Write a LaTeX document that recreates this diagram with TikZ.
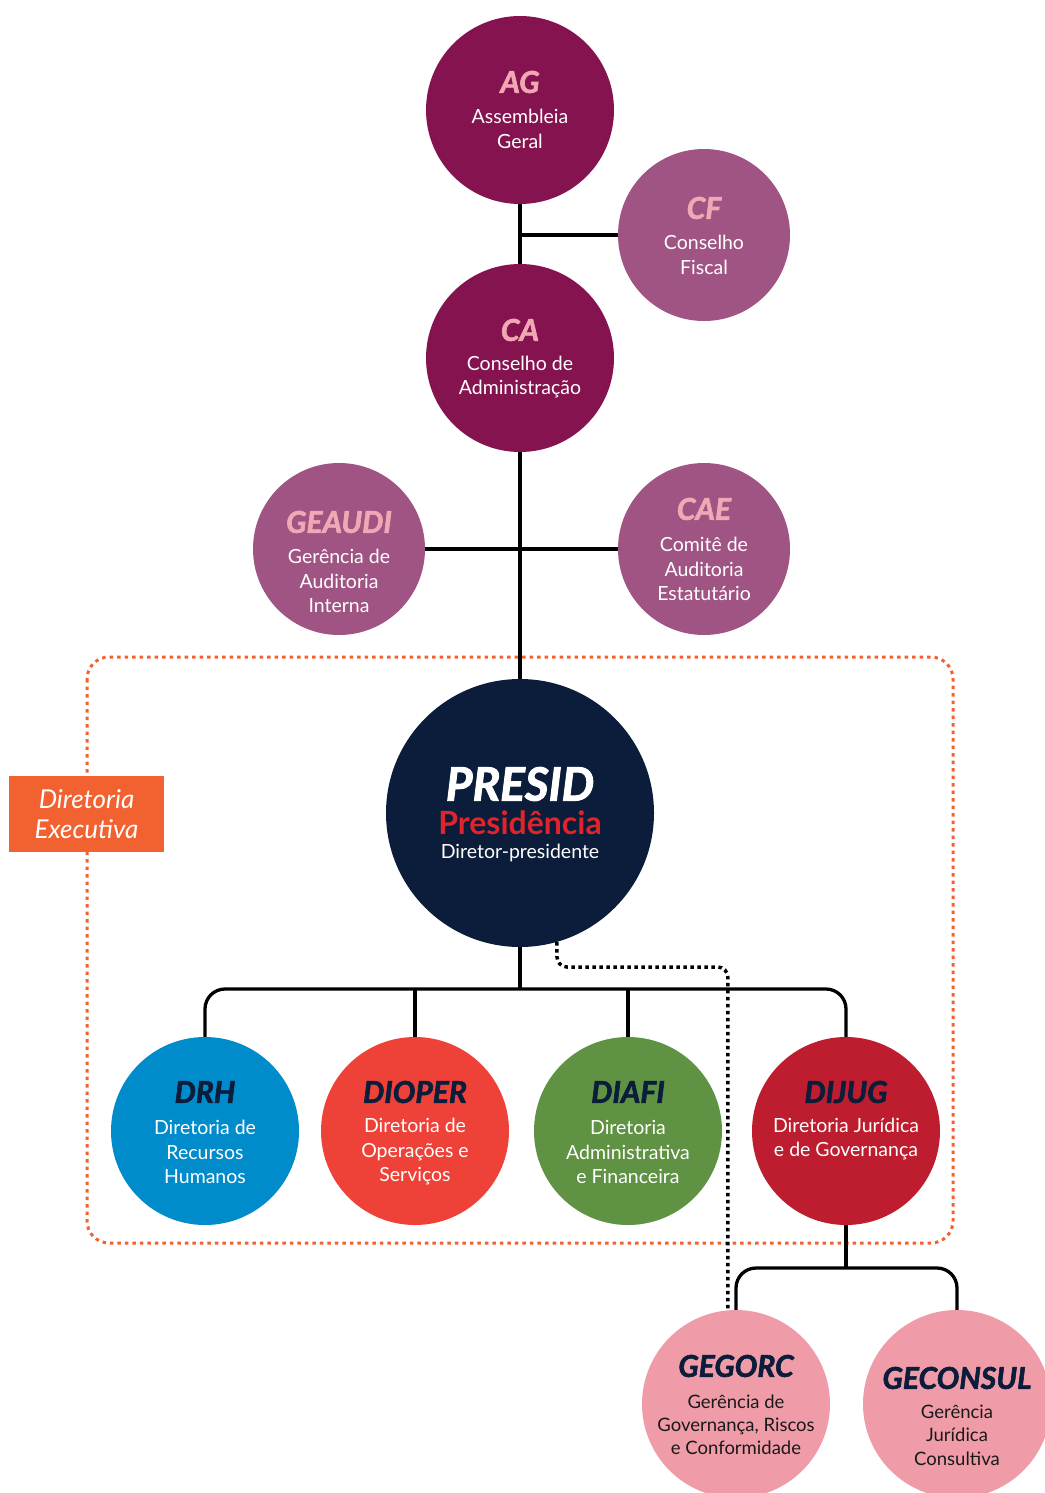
\documentclass[tikz,border=0pt]{standalone}
\usepackage{fontspec}
\setmainfont{Lato}[BoldItalicFeatures={FakeBold=2}]
\definecolor{cmag}{HTML}{85134F}
\definecolor{cmauve}{HTML}{A05484}
\definecolor{cpinkt}{HTML}{F2A7B5}
\definecolor{cnavy}{HTML}{0B1D3A}
\definecolor{cpres}{HTML}{E0242B}
\definecolor{cblue}{HTML}{008BCB}
\definecolor{corred}{HTML}{EE4137}
\definecolor{cgreen}{HTML}{5F9242}
\definecolor{ccrim}{HTML}{BD1D2F}
\definecolor{cpinkc}{HTML}{EF9CA8}
\definecolor{corange}{HTML}{F26130}
\begin{document}
\begin{tikzpicture}[x=1pt,y=-1pt,
  orgc/.style={circle, inner sep=0pt, minimum size=#1},
  ttl/.style={inner sep=0pt, font=\fontsize{30}{30}\selectfont\bfseries\itshape},
  body/.style={inner sep=0pt, align=center, text=white, font=\fontsize{19.5}{24.5}\selectfont},
  link/.style={line width=3.3pt, black},
  dotlink/.style={line width=3.5pt, black, dash pattern=on 3.5pt off 3.5pt},
  exebox/.style={draw=corange, line width=3pt, dash pattern=on 3.5pt off 4pt, rounded corners=22pt}
]
\useasboundingbox (0,0) rectangle (1044,1493);
% executive frame
\draw[exebox] (87,657) rectangle (953,1243);
\node[fill=corange, minimum width=155pt, minimum height=76pt, inner sep=0pt,
      text=white, align=center, font=\fontsize{26}{30}\selectfont\itshape] (dexe) at (86.5,814) {Diretoria\\Executiva};

% circles
\node[orgc=188, fill=cmag] (ag) at (520,110) {};
\node[orgc=172, fill=cmauve] (cf) at (704,235) {};
\node[orgc=188, fill=cmag] (ca) at (520,358) {};
\node[orgc=172, fill=cmauve] (geaudi) at (339,549) {};
\node[orgc=172, fill=cmauve] (cae) at (704,549) {};
\node[orgc=268, fill=cnavy] (presid) at (520,813) {};
\node[orgc=188, fill=cblue] (drh) at (205,1131) {};
\node[orgc=188, fill=corred] (dioper) at (415,1131) {};
\node[orgc=188, fill=cgreen] (diafi) at (628,1131) {};
\node[orgc=188, fill=ccrim] (dijug) at (846,1131) {};
\node[orgc=188, fill=cpinkc] (gegorc) at (736,1404) {};
\node[orgc=188, fill=cpinkc] (geconsul) at (957,1404) {};

% connectors
\coordinate (bus) at (520,989);
\coordinate (subbus) at (846,1268);
\coordinate (dotbus) at (640,967);
\draw[link] (ag) -- (ca);
\draw[link] (cf.west) -- (cf.west -| ag.south);
\draw[link] (ca) -- (presid);
\draw[link] (geaudi.east) -- (cae.west);
\draw[link] (presid.south) -- (bus);
\draw[link, rounded corners=20pt] (drh.north) |- (bus) -| (dijug.north);
\draw[link] (dioper.north) -- (dioper.north |- bus);
\draw[link] (diafi.north) -- (diafi.north |- bus);
\draw[link] (dijug.south) -- (subbus);
\draw[link, rounded corners=20pt] (gegorc.north) |- (subbus) -| (geconsul.north);
\draw[dotlink, rounded corners=10pt] (presid.-74) |- (dotbus) -| (gegorc.95.5);

% texts
\node[ttl, text=cpinkt] (agT) at (520,82) {AG};
\node[body] (agB) at (520,129) {Assembleia\\Geral};
\node[ttl, text=cpinkt] (cfT) at (704,208) {CF};
\node[body] (cfB) at (704,255) {Conselho\\Fiscal};
\node[ttl, text=cpinkt] (caT) at (520,330) {CA};
\node[body] (caB) at (520,377) {Conselho de\\Administração};
\node[ttl, text=cpinkt] (geaudiT) at (339,522) {GEAUDI};
\node[body] (geaudiB) at (339,581) {Gerência de\\Auditoria\\Interna};
\node[ttl, text=cpinkt] (caeT) at (704,509) {CAE};
\node[body] (caeB) at (704,569) {Comitê de\\Auditoria\\Estatutário};

\node[inner sep=0pt, text=white, font=\fontsize{46}{46}\selectfont\bfseries\itshape] (presidT) at (520,784) {PRESID};
\node[inner sep=0pt, text=cpres, font=\fontsize{32}{32}\selectfont\bfseries] (presidS) at (520,823) {Presidência};
\node[body] (presidB) at (520,853) {Diretor-presidente};

\node[ttl, text=cnavy] (drhT) at (205,1092) {DRH};
\node[body] (drhB) at (205,1152) {Diretoria de\\Recursos\\Humanos};
\node[ttl, text=cnavy] (dioperT) at (415,1092) {DIOPER};
\node[body] (dioperB) at (415,1152) {Diretoria de\\Operações e\\Serviços};
\node[ttl, text=cnavy] (diafiT) at (628,1092) {DIAFI};
\node[body] (diafiB) at (628,1152) {Diretoria\\Administrativa\\e Financeira};
\node[ttl, text=cnavy] (dijugT) at (846,1092) {DIJUG};
\node[body] (dijugB) at (846,1139) {Diretoria Jurídica\\e de Governança};

\node[ttl, text=cnavy] (gegorcT) at (736,1366) {GEGORC};
\node[body, text=black!90, font=\fontsize{18.5}{23}\selectfont] (gegorcB) at (736,1425) {Gerência de\\Governança, Riscos\\e Conformidade};
\node[ttl, text=cnavy] (geconsulT) at (957,1378) {GECONSUL};
\node[body, text=black!90, font=\fontsize{18.5}{23.5}\selectfont] (geconsulB) at (957,1435) {Gerência\\Jurídica\\Consultiva};
\end{tikzpicture}
\end{document}
